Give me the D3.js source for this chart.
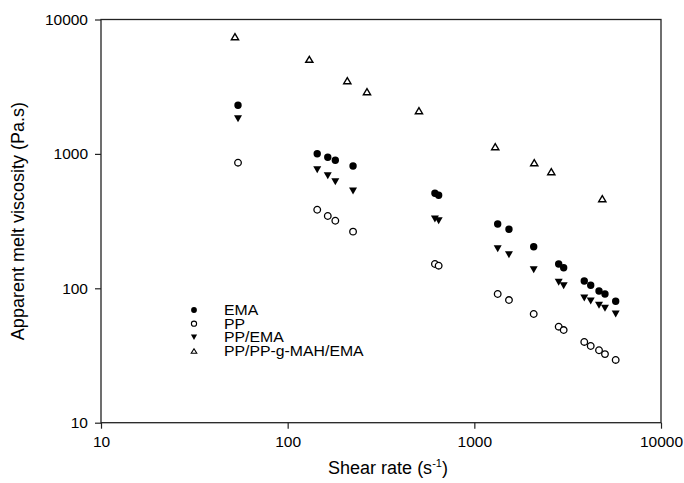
<!DOCTYPE html>
<html>
<head>
<meta charset="utf-8">
<script src="https://cdn.jsdelivr.net/npm/d3@7/dist/d3.min.js"></script>
<style>
  html, body { margin: 0; padding: 0; background: #fff; }
  svg { display: block; font-family: "Liberation Sans", Arial, sans-serif; }
</style>
</head>
<body>
<svg id="chart" width="684" height="483"></svg>
<script>
// Shear rates (1/s) shared by the EMA, PP and PP/EMA runs
const shearRate = [54.2, 144, 164, 180, 224, 615, 644, 1334, 1533, 2080, 2831, 3010, 3881, 4202, 4655, 5010, 5718];
// Apparent melt viscosity (Pa.s)
const emaVisc   = [2299, 1003, 943, 896, 813, 509, 492, 301, 275, 204, 151.6, 142.3, 113.3, 105.3, 95.5, 90.7, 80.1];
const ppVisc    = [860, 384, 345, 318, 264, 151.6, 147.3, 90.7, 81.8, 64.4, 51.8, 48.9, 39.9, 37.2, 34.6, 32.4, 29.3];
const ppEmaVisc = [1828, 763, 688, 621, 530, 328, 318, 197, 178, 137.5, 110.8, 104.5, 84.7, 80.4, 74.7, 71.0, 64.4];
// Compatibilised blend was measured at its own shear rates
const shearRateMah = [52.2, 130.6, 208.7, 266, 505, 1294, 2094, 2584, 4847];
const mahVisc      = [7450, 5058, 3505, 2903, 2096, 1131, 860, 737, 464];

const seriesNames = ["EMA", "PP", "PP/EMA", "PP/PP-g-MAH/EMA"];
const xTicks = [10, 100, 1000, 10000];
const yTicks = [10, 100, 1000, 10000];

const svg = d3.select("#chart");
const plotLeft = 101, plotRight = 661, plotTop = 19.5, plotBottom = 422.7;

const x = d3.scaleLog().domain([10, 10000]).range([plotLeft, plotRight]);
const y = d3.scaleLog().domain([10, 10000]).range([plotBottom, plotTop]);

// marker shapes
function circlePath(r) {
  return `M${r},0A${r},${r} 0 1,1 ${-r},0A${r},${r} 0 1,1 ${r},0Z`;
}
function triUp(w, h) {
  return `M0,${-h/2}L${w/2},${h/2}L${-w/2},${h/2}Z`;
}
function triDown(w, h) {
  return `M0,${h/2}L${w/2},${-h/2}L${-w/2},${-h/2}Z`;
}

const styles = {
  "EMA":             { d: circlePath(3.7),  fill: "#000", stroke: "none", sw: 0,
                       ld: circlePath(2.9) },
  "PP":              { d: circlePath(3.3),  fill: "#fff", stroke: "#000", sw: 1.3,
                       ld: circlePath(2.6) },
  "PP/EMA":          { d: triDown(8, 7),    fill: "#000", stroke: "none", sw: 0,
                       ld: triDown(6.2, 5.6) },
  "PP/PP-g-MAH/EMA": { d: triUp(7.2, 6),    fill: "#fff", stroke: "#000", sw: 1.4,
                       ld: triUp(5.6, 4.6) }
};

const series = [
  { name: "EMA", xs: shearRate, ys: emaVisc },
  { name: "PP", xs: shearRate, ys: ppVisc },
  { name: "PP/EMA", xs: shearRate, ys: ppEmaVisc },
  { name: "PP/PP-g-MAH/EMA", xs: shearRateMah, ys: mahVisc }
];

// axes
const xAxis = d3.axisBottom(x).tickValues(xTicks).tickFormat(d3.format("d"))
  .tickSizeInner(6).tickSizeOuter(0).tickPadding(7);
const yAxis = d3.axisLeft(y).tickValues(yTicks).tickFormat(d3.format("d"))
  .tickSizeInner(6).tickSizeOuter(0).tickPadding(7);

const gx = svg.append("g").attr("transform", `translate(0,${plotBottom})`).call(xAxis);
const gy = svg.append("g").attr("transform", `translate(${plotLeft},0)`).call(yAxis);
[gx, gy].forEach(g => {
  g.select(".domain").remove();
  g.selectAll(".tick line").attr("stroke", "#222").attr("stroke-width", 1.2);
  g.selectAll(".tick text").attr("fill", "#000").attr("font-size", 15.5)
    .attr("font-family", "Liberation Sans, Arial, sans-serif");
});

// frame
svg.append("rect")
  .attr("x", plotLeft).attr("y", plotTop)
  .attr("width", plotRight - plotLeft).attr("height", plotBottom - plotTop)
  .attr("fill", "none").attr("stroke", "#222").attr("stroke-width", 1.3);

// points
series.forEach(s => {
  const st = styles[s.name];
  svg.append("g").selectAll("path")
    .data(s.xs.map((v, i) => [v, s.ys[i]]))
    .join("path")
    .attr("transform", d => `translate(${x(d[0])},${y(d[1])})`)
    .attr("d", st.d)
    .attr("fill", st.fill)
    .attr("stroke", st.stroke)
    .attr("stroke-width", st.sw);
});

// legend: compact rows, slightly wide lettering
const legend = svg.append("g");
const legendY = [310, 323.7, 337.3, 351];
seriesNames.forEach((name, i) => {
  const st = styles[name];
  legend.append("path")
    .attr("transform", `translate(194,${legendY[i]})`)
    .attr("d", st.ld)
    .attr("fill", st.fill)
    .attr("stroke", st.stroke)
    .attr("stroke-width", st.sw ? 1.1 : 0);
  legend.append("text")
    .attr("transform", `translate(224,${legendY[i]}) scale(1.13,1)`)
    .attr("dy", "0.36em")
    .attr("font-size", 14)
    .attr("fill", "#000")
    .text(name);
});

// axis titles
const xt = svg.append("text")
  .attr("x", (plotLeft + plotRight) / 2 + 7).attr("y", 474)
  .attr("text-anchor", "middle")
  .attr("font-size", 18)
  .attr("fill", "#000");
xt.append("tspan").text("Shear rate (s");
xt.append("tspan").attr("font-size", 11).attr("dy", -7).text("-1");
xt.append("tspan").attr("dy", 7).text(")");

svg.append("text")
  .attr("transform", `translate(24,${(plotTop + plotBottom) / 2}) rotate(-90)`)
  .attr("text-anchor", "middle")
  .attr("font-size", 18)
  .attr("fill", "#000")
  .text("Apparent melt viscosity (Pa.s)");
</script>
</body>
</html>
